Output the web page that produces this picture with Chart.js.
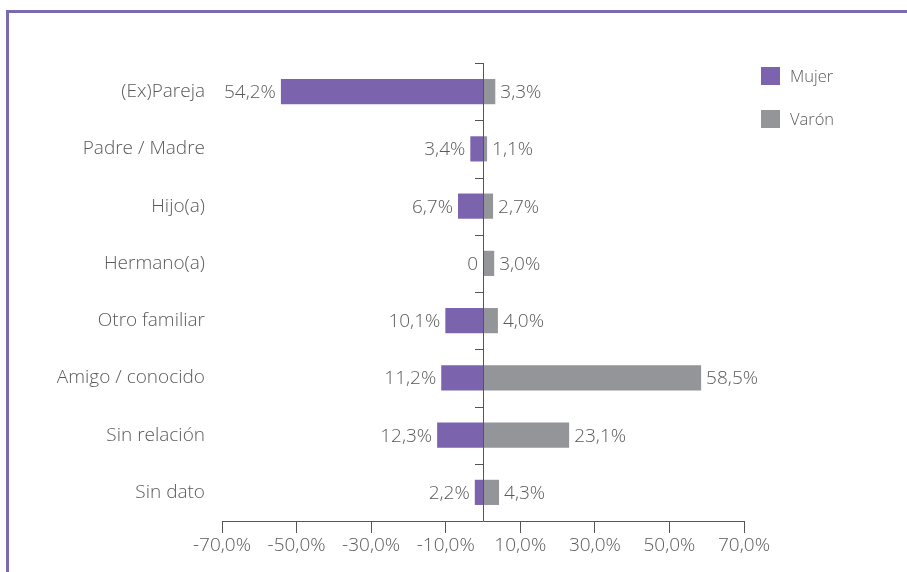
<!DOCTYPE html>
<html>
<head>
<meta charset="utf-8">
<script src="https://cdn.jsdelivr.net/npm/chart.js@4/dist/chart.umd.min.js"></script>
<style>
  html, body { margin: 0; padding: 0; background: #fff; }
  #wrap { position: relative; width: 907px; height: 572px; overflow: hidden; }
  #frame { position: absolute; left: 6px; top: 10px; width: 905px; height: 570px;
           border-top: 3px solid #7d69b0; border-left: 3px solid #7d69b0; box-sizing: border-box; }
  canvas { position: absolute; left: 0; top: 0; }
  .leg { position: absolute; left: 761px; font: 300 16.5px "Open Sans", sans-serif; color: #5a5a5a; }
  .leg span { display: inline-block; width: 19px; height: 18px; vertical-align: middle; margin-right: 10px; margin-top: -3px; }
</style>
</head>
<body>
<div id="wrap">
  <div id="frame"></div>
  <canvas id="canvas" width="907" height="572"></canvas>
  <div class="leg" style="top:64px"><span style="background:#7b64ad"></span>Mujer</div>
  <div class="leg" style="top:107px"><span style="background:#939598"></span>Varón</div>
</div>
<script>
const categories = ['(Ex)Pareja', 'Padre / Madre', 'Hijo(a)', 'Hermano(a)', 'Otro familiar', 'Amigo / conocido', 'Sin relación', 'Sin dato'];
const mujer = [54.2, 3.4, 6.7, 0, 10.1, 11.2, 12.3, 2.2];
const varon = [3.3, 1.1, 2.7, 3.0, 4.0, 58.5, 23.1, 4.3];
const xTicks = [-70, -50, -30, -10, 10, 30, 50, 70];

const PURPLE = '#7b64ad';
const GREY = '#939598';
const FONT = '"Open Sans", sans-serif';
const SIZE = 19;
const fmt = v => v.toFixed(1).replace('.', ',') + '%';

const decor = {
  id: 'decor',
  afterDatasetsDraw(chart) {
    const ctx = chart.ctx, x = chart.scales.x, y = chart.scales.y;
    const x0 = x.getPixelForValue(0);
    ctx.save();
    // vertical zero axis with boundary ticks
    ctx.strokeStyle = '#555';
    ctx.lineWidth = 1;
    ctx.beginPath();
    ctx.moveTo(x0 + 0.5, chart.chartArea.top);
    ctx.lineTo(x0 + 0.5, chart.chartArea.bottom);
    const step = (chart.chartArea.bottom - chart.chartArea.top) / categories.length;
    for (let i = 0; i < categories.length; i++) {
      const yy = Math.round(chart.chartArea.top + i * step) + 0.5;
      ctx.moveTo(x0 - 8, yy);
      ctx.lineTo(x0 + 0.5, yy);
    }
    ctx.stroke();
    // value labels
    ctx.font = '300 ' + SIZE + 'px ' + FONT;
    ctx.fillStyle = '#5a5a5a';
    ctx.textBaseline = 'middle';
    categories.forEach((c, i) => {
      const yy = y.getPixelForValue(i) + 1;
      ctx.textAlign = 'right';
      const m = mujer[i];
      ctx.fillText(m === 0 ? '0' : fmt(m), x.getPixelForValue(-m) - 5, yy);
      ctx.textAlign = 'left';
      ctx.fillText(fmt(varon[i]), x.getPixelForValue(varon[i]) + 5, yy);
    });
    ctx.restore();
  }
};

new Chart(document.getElementById('canvas').getContext('2d'), {
  type: 'bar',
  data: {
    labels: categories,
    datasets: [
      { label: 'Mujer', data: mujer.map(v => -v), backgroundColor: PURPLE },
      { label: 'Varón', data: varon, backgroundColor: GREY }
    ]
  },
  options: {
    indexAxis: 'y',
    responsive: false,
    animation: false,
    layout: { padding: { top: 63, right: 163, left: 0, bottom: 0 } },
    plugins: { legend: { display: false }, tooltip: { enabled: false } },
    datasets: { bar: { grouped: false, barPercentage: 0.44, categoryPercentage: 1 } },
    scales: {
      x: {
        min: -70, max: 70,
        afterBuildTicks: s => { s.ticks = xTicks.map(v => ({ value: v })); },
        afterFit: s => { s.height = 51; },
        grid: { drawOnChartArea: false, drawTicks: true, tickLength: 12, color: '#555' },
        border: { display: true, color: '#555' },
        ticks: { callback: v => fmt(v), color: '#5a5a5a', padding: 1, maxRotation: 0, autoSkip: false,
                 font: { family: FONT, size: SIZE, weight: 300 } }
      },
      y: {
        afterFit: s => { s.width = 222; },
        grid: { display: false, drawTicks: false },
        border: { display: false },
        ticks: { color: '#5a5a5a', padding: 17, font: { family: FONT, size: SIZE, weight: 300 } }
      }
    }
  },
  plugins: [decor]
});
</script>
</body>
</html>
